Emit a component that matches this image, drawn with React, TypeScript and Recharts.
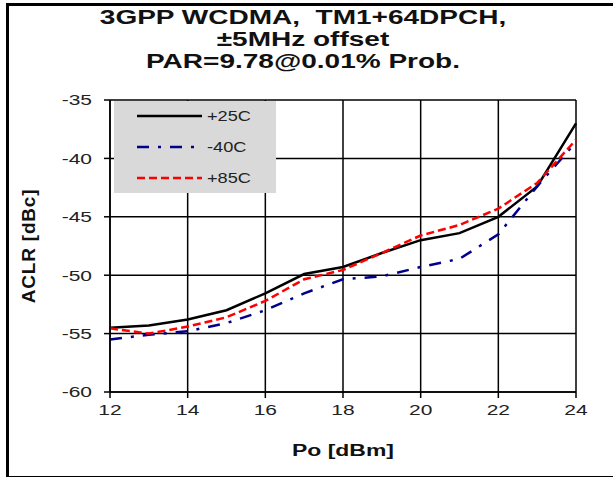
import {
  LineChart,
  Line,
  XAxis,
  YAxis,
  CartesianGrid,
  Label,
} from "recharts";

const po = [12, 13, 14, 15, 16, 17, 18, 19, 20, 21, 22, 23, 24];
const aclr25 = [-54.5, -54.3, -53.8, -53.0, -51.55, -49.9, -49.3, -48.1, -47.0, -46.4, -45.0, -42.4, -37.0];
const aclrM40 = [-55.5, -55.1, -54.8, -54.1, -53.0, -51.55, -50.35, -50.1, -49.3, -48.6, -46.5, -42.4, -38.6];
const aclr85 = [-54.55, -55.0, -54.4, -53.6, -52.2, -50.35, -49.55, -48.1, -46.6, -45.7, -44.3, -42.1, -38.4];

const xTicks = [12, 14, 16, 18, 20, 22, 24];
const yTicks = [-60, -55, -50, -45, -40, -35];
const titleLines = ["3GPP WCDMA,  TM1+64DPCH,", "\u00b15MHz offset", "PAR=9.78@0.01% Prob."];

const series = [
  { key: "p25", name: "+25C", color: "#000000", dash: undefined as string | undefined, width: 2.5 },
  { key: "m40", name: "-40C", color: "#00008b", dash: "12 9 3 9", width: 2.5 },
  { key: "p85", name: "+85C", color: "#ff0000", dash: "8 4", width: 2.5 },
];

const data = po.map((x, i) => ({
  po: x,
  p25: aclr25[i],
  m40: aclrM40[i],
  p85: aclr85[i],
}));

const font = "Arial, 'Liberation Sans', sans-serif";
const stretch = 1.4;

function XTick(props: any) {
  const { x, y, payload } = props;
  return (
    <g transform={`translate(${x},${y}) scale(${stretch},1)`}>
      <text x={0} y={0} dy="0.71em" textAnchor="middle" fontSize={15} fontFamily={font} fill="#222">
        {payload.value}
      </text>
    </g>
  );
}

function YTick(props: any) {
  const { x, y, payload } = props;
  return (
    <g transform={`translate(${x},${y}) scale(${stretch},1)`}>
      <text x={0} y={0} dy="0.355em" textAnchor="end" fontSize={15} fontFamily={font} fill="#222">
        {payload.value}
      </text>
    </g>
  );
}

function LegendBox() {
  return (
    <svg width={162} height={92} style={{ display: "block" }}>
      <rect x={0} y={0} width={162} height={92} fill="#d9d9d9" />
      {series.map((s, i) => {
        const y = 15 + i * 31;
        return (
          <g key={s.key}>
            <line
              x1={23}
              x2={88}
              y1={y}
              y2={y}
              stroke={s.color}
              strokeWidth={s.width}
              strokeDasharray={s.dash}
            />
            <g transform={`translate(93,${y + 5}) scale(1.3,1)`}>
              <text x={0} y={0} fontSize={14} fontFamily={font} fill="#222">
                {s.name}
              </text>
            </g>
          </g>
        );
      })}
    </svg>
  );
}

export default function App() {
  return (
    <div
      style={{
        position: "absolute",
        left: 0,
        top: 0,
        width: 613,
        height: 477,
        background: "#fff",
        fontFamily: font,
        overflow: "hidden",
      }}
    >
      <div
        style={{
          position: "absolute",
          left: 6,
          top: 3,
          width: 620,
          height: 474,
          borderLeft: "3.5px solid #000",
          borderTop: "3px solid #000",
          borderBottom: "1.5px solid #000",
          boxSizing: "border-box",
        }}
      />
      <div
        style={{
          position: "absolute",
          left: 0,
          top: 6,
          width: 606,
          textAlign: "center",
          fontWeight: "bold",
          fontSize: 20,
          lineHeight: "22px",
          color: "#111",
        }}
      >
        {titleLines.map((t) => (
          <div key={t} style={{ whiteSpace: "pre", transform: `scaleX(${stretch})` }}>
            {t}
          </div>
        ))}
      </div>
      <LineChart
        width={613}
        height={477}
        data={data}
        margin={{ top: 100, right: 37, bottom: 55, left: 60 }}
      >
        <CartesianGrid stroke="#000" strokeWidth={1.5} />
        <XAxis
          dataKey="po"
          type="number"
          domain={[12, 24]}
          ticks={xTicks}
          height={30}
          tickSize={6}
          tickMargin={6}
          stroke="#000"
          strokeWidth={1.5}
          tick={<XTick />}
        >
          <Label
            value="Po [dBm]"
            position="bottom"
            offset={22}
            style={{
              fontSize: 17,
              fontWeight: "bold",
              fill: "#111",
              fontFamily: font,
              transformBox: "fill-box",
              transformOrigin: "center",
              transform: "scaleX(1.35)",
            }}
          />
        </XAxis>
        <YAxis
          type="number"
          domain={[-60, -35]}
          ticks={yTicks}
          width={50}
          tickSize={6}
          tickMargin={12}
          stroke="#000"
          strokeWidth={1.5}
          tick={<YTick />}
        >
          <Label
            value="ACLR [dBc]"
            angle={-90}
            position="left"
            offset={32}
            style={{
              fontSize: 19,
              fontWeight: "bold",
              fill: "#111",
              fontFamily: font,
              textAnchor: "middle",
              letterSpacing: 0.8,
            }}
          />
        </YAxis>
        {series.map((s) => (
          <Line
            key={s.key}
            dataKey={s.key}
            name={s.name}
            stroke={s.color}
            strokeWidth={s.width}
            strokeDasharray={s.dash}
            dot={false}
            type="linear"
            isAnimationActive={false}
          />
        ))}
      </LineChart>
      <div style={{ position: "absolute", left: 114, top: 101 }}>
        <LegendBox />
      </div>
    </div>
  );
}
